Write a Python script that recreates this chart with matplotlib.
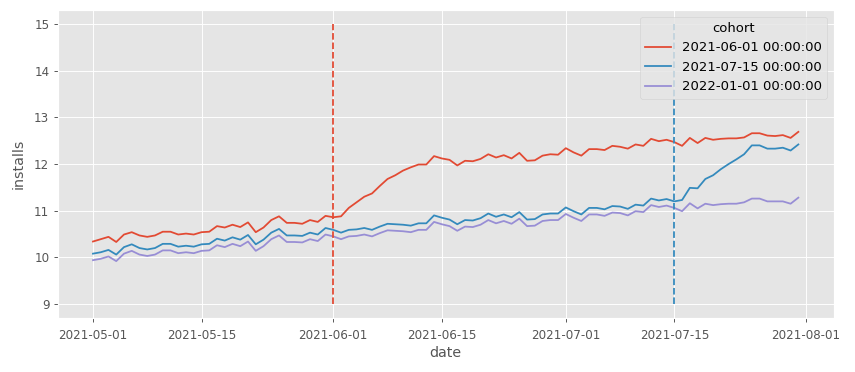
import numpy as np
import pandas as pd
import matplotlib
matplotlib.use("Agg")
import matplotlib.pyplot as plt

# ── Data ─────────────────────────────────────────────────────────────────
dates = pd.date_range("2021-05-01", "2021-07-31", freq="D")

cohort_labels = ["2021-06-01 00:00:00", "2021-07-15 00:00:00", "2022-01-01 00:00:00"]
cohort_starts = ["2021-06-01", "2021-07-15"]

installs_jun01 = [
    10.34, 10.39, 10.44, 10.33, 10.49, 10.54, 10.47, 10.44, 10.47, 10.55,
    10.55, 10.49, 10.51, 10.49, 10.54, 10.55, 10.67, 10.64, 10.70, 10.65,
    10.75, 10.54, 10.64, 10.80, 10.88, 10.74, 10.74, 10.72, 10.80, 10.76,
    10.89, 10.86, 10.88, 11.06, 11.18, 11.30, 11.37, 11.53, 11.68, 11.76,
    11.86, 11.93, 11.99, 11.99, 12.17, 12.12, 12.09, 11.97, 12.07, 12.06,
    12.11, 12.21, 12.14, 12.19, 12.12, 12.24, 12.07, 12.08, 12.18, 12.21,
    12.20, 12.34, 12.25, 12.18, 12.32, 12.32, 12.30, 12.39, 12.37, 12.33,
    12.42, 12.39, 12.54, 12.49, 12.52, 12.47, 12.39, 12.56, 12.45, 12.56,
    12.52, 12.54, 12.55, 12.55, 12.57, 12.66, 12.66, 12.61, 12.60, 12.62,
    12.56, 12.69,
]

installs_jul15 = [
    10.08, 10.11, 10.16, 10.06, 10.22, 10.28, 10.20, 10.17, 10.20, 10.29,
    10.29, 10.23, 10.25, 10.23, 10.28, 10.29, 10.40, 10.36, 10.43, 10.38,
    10.48, 10.28, 10.38, 10.53, 10.61, 10.47, 10.47, 10.46, 10.53, 10.49,
    10.63, 10.59, 10.53, 10.59, 10.60, 10.63, 10.59, 10.66, 10.72, 10.71,
    10.70, 10.68, 10.73, 10.73, 10.90, 10.85, 10.81, 10.71, 10.80, 10.79,
    10.84, 10.94, 10.87, 10.92, 10.86, 10.97, 10.81, 10.82, 10.92, 10.94,
    10.94, 11.07, 10.99, 10.92, 11.06, 11.06, 11.03, 11.10, 11.09, 11.04,
    11.13, 11.11, 11.26, 11.22, 11.25, 11.20, 11.23, 11.49, 11.48, 11.68,
    11.76, 11.89, 12.00, 12.10, 12.21, 12.40, 12.40, 12.33, 12.33, 12.35,
    12.29, 12.42,
]

installs_jan01 = [
    9.94, 9.97, 10.02, 9.92, 10.08, 10.14, 10.06, 10.03, 10.06, 10.15,
    10.15, 10.09, 10.11, 10.09, 10.14, 10.15, 10.26, 10.22, 10.29, 10.24,
    10.34, 10.14, 10.24, 10.39, 10.47, 10.33, 10.33, 10.32, 10.39, 10.35,
    10.49, 10.45, 10.39, 10.45, 10.46, 10.49, 10.45, 10.52, 10.58, 10.57,
    10.56, 10.54, 10.59, 10.59, 10.76, 10.71, 10.67, 10.57, 10.66, 10.65,
    10.70, 10.80, 10.73, 10.78, 10.72, 10.83, 10.67, 10.68, 10.78, 10.80,
    10.80, 10.93, 10.85, 10.78, 10.92, 10.92, 10.89, 10.96, 10.95, 10.90,
    10.99, 10.97, 11.12, 11.08, 11.11, 11.06, 10.99, 11.16, 11.05, 11.15,
    11.12, 11.14, 11.15, 11.15, 11.18, 11.26, 11.26, 11.20, 11.20, 11.20,
    11.15, 11.28,
]
# ─────────────────────────────────────────────────────────────────────────

plt.style.use("ggplot")
colors = plt.rcParams["axes.prop_cycle"].by_key()["color"]

fig, ax = plt.subplots(figsize=(10, 4.351), dpi=85.5)
fig.subplots_adjust(left=0.0675, right=0.975, bottom=0.145, top=0.973)

series = [installs_jun01, installs_jul15, installs_jan01]
for label, values, c in zip(cohort_labels, series, colors):
    ax.plot(dates, values, label=label, color=c)

for start, c in zip(cohort_starts, colors):
    ax.vlines(pd.Timestamp(start), 9, 15, color=c, linestyle="--")

ax.tick_params(axis="x", pad=6)
ax.set_xlabel("date", labelpad=3)
ax.set_ylabel("installs", labelpad=7)
ax.legend(title="cohort", loc="upper right", fontsize=11, title_fontsize=11)

fig.savefig("out.png", dpi=85.5)
